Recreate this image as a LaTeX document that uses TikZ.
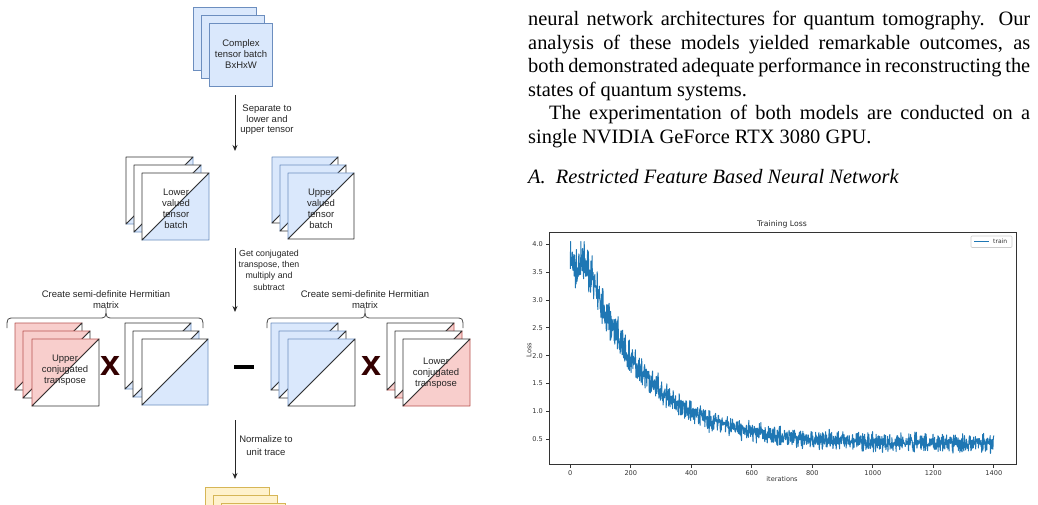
\documentclass[tikz,border=0pt]{standalone}
\usepackage{fontspec}
\setmainfont{Liberation Serif}
\newfontfamily\dio{Liberation Sans}
\newfontfamily\mpl{DejaVu Sans}
\usetikzlibrary{arrows.meta}
\definecolor{bfill}{HTML}{DAE8FC}
\definecolor{bdraw}{HTML}{6C8EBF}
\definecolor{rfill}{HTML}{F8CECC}
\definecolor{rdraw}{HTML}{B85450}
\definecolor{yfill}{HTML}{FFF2CC}
\definecolor{ydraw}{HTML}{D6B656}
\definecolor{xred}{HTML}{330000}
\definecolor{plotblue}{HTML}{1F77B4}
\definecolor{edge}{HTML}{333333}
\newcommand\fullsq[5]{\filldraw[fill=#4,draw=#5,line width=0.9pt] (#1,#2) rectangle ++(#3,#3);}
\newcommand\sqUL[5]{%
  \filldraw[fill=#4,draw=#5,line width=0.9pt,line join=round] (#1,#2) -- ({#1+#3},#2) -- (#1,{#2+#3}) -- cycle;
  \filldraw[fill=white,draw=edge,line width=0.9pt,line join=round] ({#1+#3},#2) -- ({#1+#3},{#2+#3}) -- (#1,{#2+#3}) -- cycle;}
\newcommand\sqLR[5]{%
  \filldraw[fill=#4,draw=#5,line width=0.9pt,line join=round] ({#1+#3},#2) -- ({#1+#3},{#2+#3}) -- (#1,{#2+#3}) -- cycle;
  \filldraw[fill=white,draw=edge,line width=0.9pt,line join=round] (#1,#2) -- ({#1+#3},#2) -- (#1,{#2+#3}) -- cycle;}
\tikzset{
  lbl/.style={font=\dio\fontsize{9.5}{11}\selectfont, align=center, text=black!85, inner sep=0pt},
  flow/.style={-{Stealth[length=6pt,width=5pt]}, line width=0.9pt, draw=black!85},
  bracepath/.style={line width=0.8pt, draw=black!70},
  xsym/.style={font=\dio\bfseries\fontsize{36}{36}\selectfont, text=xred, inner sep=0pt},
  body/.style={font=\fontsize{20.4}{24}\selectfont, anchor=base west, inner sep=0pt},
  ticklbl/.style={font=\mpl\fontsize{6.6}{7}\selectfont, text=black!80, inner sep=0pt},
}
\begin{document}
\begin{tikzpicture}[x=1pt,y=-1pt]
\clip (0,0) rectangle (1038,505);
\fill[white] (0,0) rectangle (1038,505);

% ---------- top stack
\fullsq{193}{7}{63}{bfill}{bdraw}
\fullsq{201}{15}{63}{bfill}{bdraw}
\fullsq{209}{23}{63}{bfill}{bdraw}
\node[lbl, font=\dio\fontsize{9.5}{10.7}\selectfont] (cplx) at (241,54) {Complex\\tensor batch\\BxHxW};

\coordinate (a1s) at (235,95);
\coordinate (a1e) at (235,151);
\draw[flow] (a1s) -- (a1e);
\node[lbl, font=\dio\fontsize{9.5}{10.5}\selectfont] (a1l) at (267,120) {Separate to\\lower and\\upper tensor};

% ---------- row 2
\sqLR{126}{157}{67}{bfill}{bdraw}
\sqLR{134}{165}{67}{bfill}{bdraw}
\sqLR{142}{173}{67}{bfill}{bdraw}
\node[lbl] (lowb) at (176,208.5) {Lower\\valued\\tensor\\batch};

\sqUL{272}{157}{66}{bfill}{bdraw}
\sqUL{280}{165}{66}{bfill}{bdraw}
\sqUL{288}{173}{66}{bfill}{bdraw}
\node[lbl] (upb) at (321,208.5) {Upper\\valued\\tensor\\batch};

\coordinate (a2s) at (235,248);
\coordinate (a2e) at (235,312);
\draw[flow] (a2s) -- (a2e);
\node[lbl, font=\dio\fontsize{8.8}{11.4}\selectfont] (a2l) at (269,270) {Get conjugated\\transpose, then\\multiply and\\subtract};

% ---------- row 3 left group
\draw[bracepath] (7,328) .. controls (7,318) .. (15,318) -- (98,318) .. controls (106,318) .. (106,308)
  .. controls (106,318) .. (114,318) -- (195,318) .. controls (203,318) .. (203,328);
\node[lbl] (h1) at (106,299.5) {Create semi-definite Hermitian\\matrix};

\sqUL{15}{323}{67}{rfill}{rdraw}
\sqUL{23}{331}{67}{rfill}{rdraw}
\sqUL{32}{339}{67}{rfill}{rdraw}
\node[lbl] (uct) at (65,370) {Upper\\conjugated\\transpose};

\node[xsym] (x1) at (111,366) {x};

\sqLR{125}{323}{66}{bfill}{bdraw}
\sqLR{133}{331}{66}{bfill}{bdraw}
\sqLR{142}{339}{66}{bfill}{bdraw}

\fill[black] (234,364.5) rectangle (254,369);

% ---------- row 3 right group
\draw[bracepath] (267,328) .. controls (267,318) .. (275,318) -- (357,318) .. controls (365,318) .. (365,308)
  .. controls (365,318) .. (373,318) -- (455,318) .. controls (463,318) .. (463,328);
\node[lbl] (h2) at (365,299.5) {Create semi-definite Hermitian\\matrix};

\sqUL{271}{323}{67}{bfill}{bdraw}
\sqUL{279}{331}{67}{bfill}{bdraw}
\sqUL{288}{339}{67}{bfill}{bdraw}

\node[xsym] (x2) at (372,366) {x};

\sqLR{387}{323}{67}{rfill}{rdraw}
\sqLR{395}{331}{67}{rfill}{rdraw}
\sqLR{403}{339}{67}{rfill}{rdraw}
\node[lbl] (lct) at (436,373.5) {Lower\\conjugated\\transpose};

\coordinate (a3s) at (235,420);
\coordinate (a3e) at (235,479);
\draw[flow] (a3s) -- (a3e);
\node[lbl, font=\dio\fontsize{9.5}{12.4}\selectfont] (a3l) at (266,445.5) {Normalize to\\unit trace};

% ---------- bottom stack
\fullsq{205}{487}{64}{yfill}{ydraw}
\fullsq{213}{495}{64}{yfill}{ydraw}
\fullsq{221}{503}{64}{yfill}{ydraw}

% ---------- body text
\node[body] (t1) at (528,26) {\makebox[502pt][s]{neural network architectures for quantum tomography. Our}};
\node[body] (t2) at (528,49.5) {\makebox[502pt][s]{analysis of these models yielded remarkable outcomes, as}};
\node[body] (t3) at (528,73) {\makebox[502pt][s]{both demonstrated adequate performance in reconstructing the}};
\node[body] (t4) at (528,96.5) {states of quantum systems.};
\node[body] (t5) at (549,120) {\makebox[481pt][s]{The experimentation of both models are conducted on a}};
\node[body] (t6) at (528,143.5) {single NVIDIA GeForce RTX 3080 GPU.};
\node[body, font=\itshape\fontsize{20.4}{24}\selectfont] (sec) at (528,183) {A.\ \ Restricted Feature Based Neural Network};

% ---------- plot
\node[font=\mpl\fontsize{7.7}{8}\selectfont, text=black!85] (ttl) at (782,224.5) {Training Loss};
\pgfmathsetseed{7}
\begin{scope}
\clip (549,232) rectangle (1016,464);
\draw[plotblue, line width=1pt, line join=round]
  plot[domain=0:1400, samples=1401, variable=\t]
  ({570.3+0.3025*\t},
   {439-55.6*(0.42+3.2*exp(-max(\t-55,0)/200)
     + (0.1+0.06*(0.42+3.2*exp(-max(\t-55,0)/200)))*0.8*(rand+rand) - 0.5)});
\end{scope}
\draw[black!80, line width=0.8pt] (549,232) rectangle (1016,464);
\foreach \v in {0.5,1.0,1.5,2.0,2.5,3.0,3.5,4.0}{
  \draw[black!80, line width=0.7pt] (549,{439-55.6*(\v-0.5)}) -- ++(-3.5,0);
  \node[ticklbl, anchor=east] at (543,{439-55.6*(\v-0.5)}) {\v};
}
\foreach \i in {0,200,...,1400}{
  \draw[black!80, line width=0.7pt] ({570.3+0.3025*\i},464) -- ++(0,3.5);
  \node[ticklbl, anchor=north] at ({570.3+0.3025*\i},470) {\i};
}
\node[ticklbl] (xl) at (782,479) {iterations};
\node[ticklbl, rotate=90] (yl) at (529,350) {Loss};
\draw[black!20, line width=0.6pt, rounded corners=1pt, fill=white] (971,236) rectangle (1012,247.5);
\draw[plotblue, line width=1.4pt] (974,241.5) -- (988.5,241.5);
\node[ticklbl, font=\mpl\fontsize{6}{7}\selectfont, anchor=west] (lg) at (993,241.5) {train};
\end{tikzpicture}
\end{document}
